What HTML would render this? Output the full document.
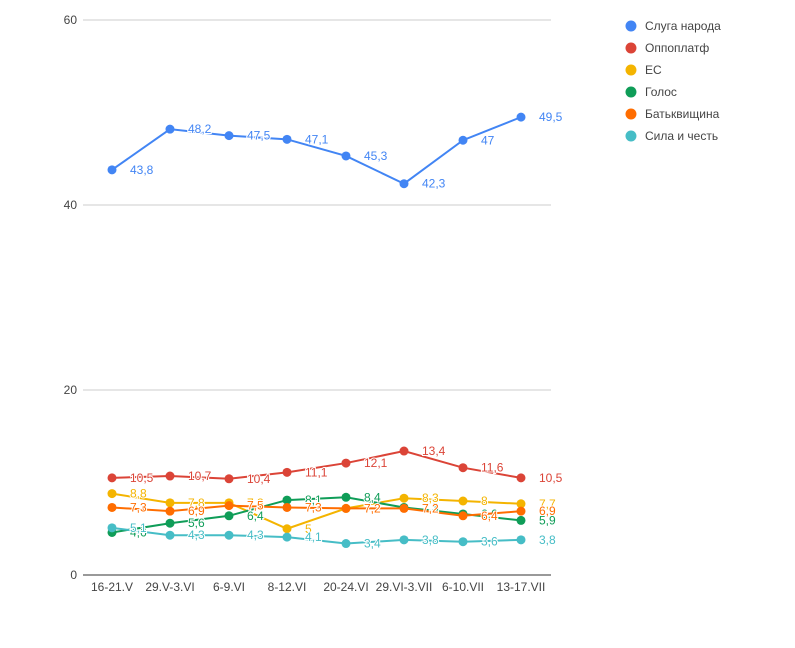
<!DOCTYPE html>
<html><head><meta charset="utf-8"><style>
body{margin:0;background:#fff;}
svg{display:block;font-family:"Liberation Sans",Arial,sans-serif;}
</style></head><body>
<svg id="c" width="795" height="648" xmlns="http://www.w3.org/2000/svg"></svg>
<script>
const s=document.getElementById('c');
let h='';
const Y=v=>575-v*9.25;
const X=[112,170,229,287,346,404,463,521];
[20,40,60].forEach(v=>{h+=`<line x1="83" x2="551" y1="${Y(v)}" y2="${Y(v)}" stroke="#ccc"/>`;});
[0,20,40,60].forEach(v=>{h+=`<text x="77" y="${Y(v)+4}" text-anchor="end" font-size="12" fill="#444">${v}</text>`;});
h+=`<line x1="83" x2="551" y1="575" y2="575" stroke="#333"/>`;
const L=["16-21.V","29.V-3.VI","6-9.VI","8-12.VI","20-24.VI","29.VI-3.VII","6-10.VII","13-17.VII"];
L.forEach((t,i)=>{h+=`<text x="${X[i]}" y="591" text-anchor="middle" font-size="12" fill="#444">${t}</text>`;});
const S=[
["Слуга народа","#4285f4",[43.8,48.2,47.5,47.1,45.3,42.3,47,49.5]],
["Оппоплатф","#db4437",[10.5,10.7,10.4,11.1,12.1,13.4,11.6,10.5]],
["ЕС","#f4b400",[8.8,7.8,7.8,5,7.2,8.3,8,7.7]],
["Голос","#0f9d58",[4.6,5.6,6.4,8.1,8.4,7.3,6.6,5.9]],
["Батьквищина","#ff6d00",[7.3,6.9,7.5,7.3,7.2,7.2,6.4,6.9]],
["Сила и честь","#46bdc6",[5.1,4.3,4.3,4.1,3.4,3.8,3.6,3.8]]];
S.forEach(([n,c,d],k)=>{
 h+=`<polyline fill="none" stroke="${c}" stroke-width="2" points="${d.map((v,i)=>X[i]+','+Y(v)).join(' ')}"/>`;
 d.forEach((v,i)=>{h+=`<circle cx="${X[i]}" cy="${Y(v)}" r="4.5" fill="${c}"/>`;});
 d.forEach((v,i)=>{h+=`<text x="${X[i]+18}" y="${Y(v)+4}" font-size="12" fill="${c}" stroke="#fff" stroke-width="2" paint-order="stroke">${String(v).replace('.',',')}</text>`;});
 const ly=26+k*22;
 h+=`<circle cx="631" cy="${ly}" r="5.5" fill="${c}"/><text x="645" y="${ly+4}" font-size="12" fill="#444">${n}</text>`;
});
s.innerHTML=h;
</script>
</body></html>
